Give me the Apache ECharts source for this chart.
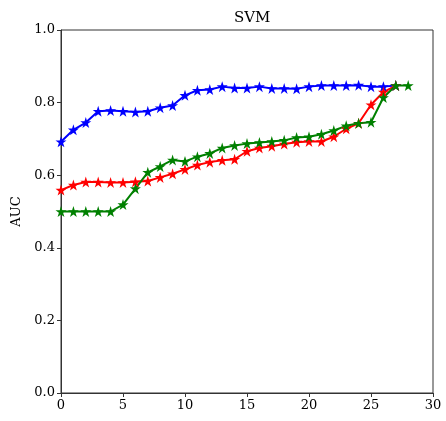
<!DOCTYPE html>
<html><head><meta charset="utf-8">
<script src="https://cdn.jsdelivr.net/npm/echarts@6/dist/echarts.min.js"></script>
<style>html,body{margin:0;padding:0;background:#fff}#c{width:446px;height:421px}</style>
</head><body><div id="c"></div>
<script>
const blueVals = [0.692,0.725,0.745,0.776,0.778,0.776,0.774,0.776,0.786,0.792,0.820,0.834,0.836,0.844,0.840,0.840,0.844,0.839,0.839,0.838,0.844,0.847,0.847,0.847,0.848,0.844,0.844,0.847];
const redVals = [0.559,0.573,0.581,0.581,0.580,0.580,0.582,0.584,0.594,0.604,0.616,0.628,0.636,0.641,0.644,0.666,0.675,0.680,0.686,0.691,0.693,0.693,0.706,0.728,0.743,0.794,0.829,0.847];
const greenVals = [0.500,0.500,0.500,0.500,0.500,0.519,0.563,0.608,0.624,0.642,0.638,0.651,0.660,0.675,0.682,0.687,0.690,0.693,0.696,0.704,0.706,0.713,0.723,0.736,0.743,0.746,0.814,0.847,0.847];
const xTicks = [0,5,10,15,20,25,30];
const yTicks = [0.0,0.2,0.4,0.6,0.8,1.0];
const titleText = 'SVM';
const yName = 'AUC';

const toPairs = v => v.map((y,i)=>[i,y]);
const font = 'DejaVu Serif';
const star = 'path://M50,0 L61.8,36.3 L100,36.3 L69.1,58.8 L80.9,95.1 L50,72.6 L19.1,95.1 L30.9,58.8 L0,36.3 L38.2,36.3 Z';
function mk(data, color){
  return {type:'line', data:toPairs(data), symbol:star, symbolSize:11, showAllSymbol:true,
    lineStyle:{color, width:2}, itemStyle:{color}, emphasis:{disabled:true}, z:2};
}
const chart = echarts.init(document.getElementById('c'), null, {renderer:'canvas'});
chart.setOption({
  animation:false,
  title:{text:titleText, left:229, top:6,
    textStyle:{fontFamily:font, fontSize:15, fontWeight:'normal', color:'#000'}},
  grid:{left:61, right:13, top:30, bottom:28, show:true, borderColor:'#333', borderWidth:1},
  xAxis:{type:'value', min:0, max:30, interval:5,
    axisLine:{show:true, onZero:false, lineStyle:{color:'#333'}},
    axisTick:{show:true, length:4, lineStyle:{color:'#333'}},
    splitLine:{show:false},
    axisLabel:{fontFamily:font, fontSize:13, color:'#000', margin:6,
      formatter: v => xTicks.includes(v) ? String(v) : ''}},
  yAxis:{type:'value', min:0, max:1, interval:0.2, name:yName, nameLocation:'middle', nameGap:37,
    nameTextStyle:{fontFamily:font, fontSize:13, color:'#000'},
    axisLine:{show:true, lineStyle:{color:'#333'}},
    axisTick:{show:true, length:4, lineStyle:{color:'#333'}},
    splitLine:{show:false},
    axisLabel:{fontFamily:font, fontSize:13, color:'#000', margin:6,
      formatter: v => { const t = yTicks.find(k=>Math.abs(k-v)<1e-9); return t===undefined?'':t.toFixed(1); }}},
  series:[mk(blueVals,'#0000ff'), mk(redVals,'#ff0000'), mk(greenVals,'#008000')]
});
</script></body></html>
